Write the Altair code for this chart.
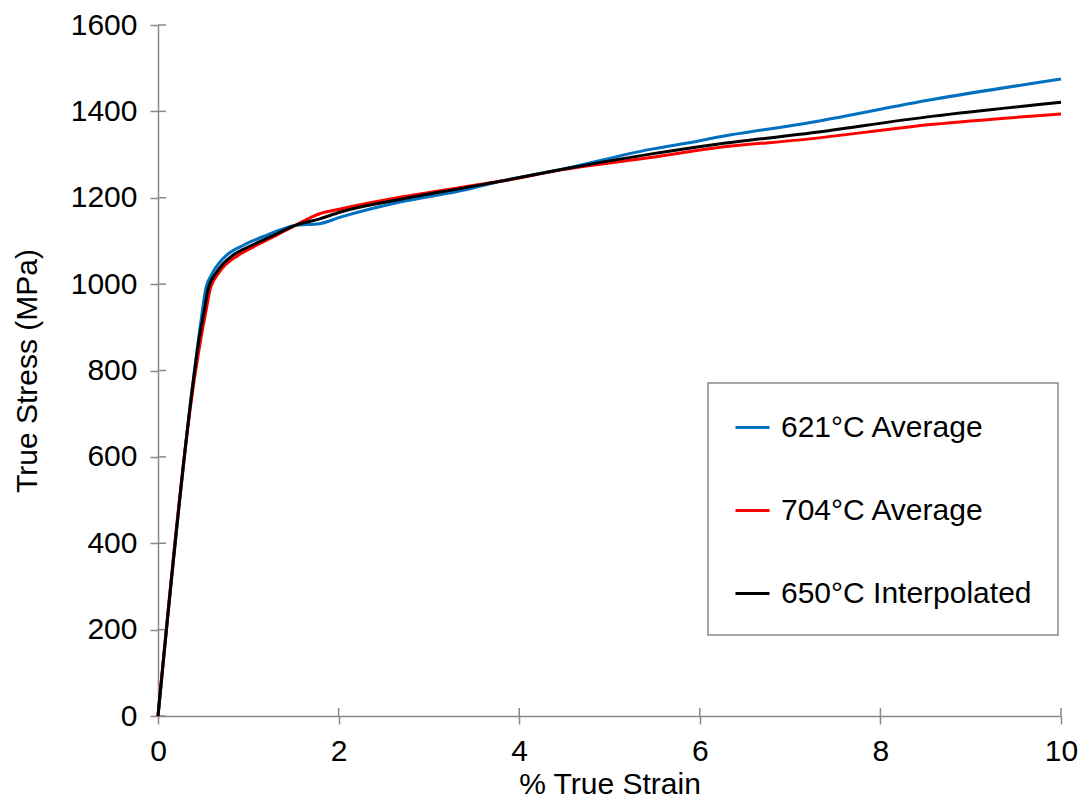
import altair as alt
import pandas as pd

series_names = ["621°C Average", "704°C Average", "650°C Interpolated"]
series_colors = ["#0070C0", "#FF0000", "#000000"]

strain_621 = [0, 0.38, 0.44, 0.49, 0.53, 0.61, 0.76, 0.945, 1.20, 1.52, 1.79, 2.02, 2.68,
              3.42, 3.79, 4.45, 5.45, 6.0, 6.19, 7.11, 8.59, 10.0]
stress_621 = [0, 760, 860, 936, 990, 1028, 1067, 1090, 1113, 1136, 1140, 1155, 1190,
              1219, 1238, 1265, 1312, 1332, 1340, 1370, 1428, 1475]

strain_704 = [0, 0.41, 0.48, 0.53, 0.58, 0.68, 0.89, 1.09, 1.31, 1.52, 1.79, 2.02, 2.68,
              3.42, 3.79, 4.45, 5.45, 6.19, 7.11, 8.59, 10.0]
stress_704 = [0, 790, 880, 936, 990, 1028, 1067, 1090, 1113, 1136, 1163, 1174, 1201,
              1226, 1238, 1264, 1293, 1316, 1334, 1370, 1394]

strain_650 = [0, 0.40, 0.46, 0.51, 0.557, 0.65, 0.83, 1.04, 1.28, 1.52, 1.79, 2.02, 2.68,
              3.42, 3.79, 4.45, 5.45, 6.19, 7.11, 8.59, 10.0]
stress_650 = [0, 790, 880, 936, 990, 1028, 1067, 1090, 1113, 1136, 1151, 1167, 1196,
              1224, 1238, 1265, 1301, 1324, 1347, 1389, 1421]

x_ticks = [0, 2, 4, 6, 8, 10]
y_ticks = [0, 200, 400, 600, 800, 1000, 1200, 1400, 1600]

frames = []
for name, xs, ys in [(series_names[0], strain_621, stress_621),
                     (series_names[1], strain_704, stress_704),
                     (series_names[2], strain_650, stress_650)]:
    frames.append(pd.DataFrame({"strain": xs, "stress": ys, "series": name}))
df = pd.concat(frames, ignore_index=True)

FONT = "Liberation Sans"
AXIS_GRAY = "#898989"
W, H = 903, 691

x_scale = alt.Scale(domain=[0, 10], nice=False)
y_scale = alt.Scale(domain=[0, 1600], nice=False)

x_enc = alt.X("strain:Q", scale=x_scale,
              axis=alt.Axis(title="% True Strain", values=x_ticks, labelPadding=12,
                            labelFlush=False, titlePadding=3, format="d"))
y_enc = alt.Y("stress:Q", scale=y_scale,
              axis=alt.Axis(title="True Stress (MPa)", values=y_ticks, labelPadding=13,
                            titlePadding=28, format="d"))
color_enc = alt.Color("series:N",
                      scale=alt.Scale(domain=series_names, range=series_colors),
                      sort=series_names,
                      legend=alt.Legend(title=None, orient="none", legendX=550, legendY=358,
                                        padding=26, rowPadding=49, symbolType="stroke",
                                        symbolSize=1156, symbolStrokeWidth=3,
                                        labelOffset=10, labelFontSize=30, labelFont=FONT,
                                        labelColor="#000000", labelLimit=400,
                                        strokeColor=AXIS_GRAY, fillColor="#ffffff"))

# inner halves of the crossing tick marks (outer halves come from the axes)
ytick_df = pd.DataFrame({"stress": y_ticks})
xtick_df = pd.DataFrame({"strain": x_ticks})
inner_y = alt.Chart(ytick_df).mark_rule(color=AXIS_GRAY, strokeWidth=1.5).encode(
    y=alt.Y("stress:Q", scale=y_scale), x=alt.value(0), x2=alt.value(8))
inner_x = alt.Chart(xtick_df).mark_rule(color=AXIS_GRAY, strokeWidth=1.5).encode(
    x=alt.X("strain:Q", scale=x_scale), y=alt.value(H - 8), y2=alt.value(H))

layers = [inner_y, inner_x]
for name in series_names:
    layers.append(
        alt.Chart(df).transform_filter(alt.datum.series == name)
        .mark_line(strokeWidth=3, interpolate="monotone")
        .encode(x=x_enc, y=y_enc, color=color_enc)
    )

chart = alt.layer(*layers).properties(
    width=W, height=H,
    autosize=alt.AutoSizeParams(type="none"),
    padding={"left": 150, "top": 17, "right": 18, "bottom": 86},
    background="#ffffff",
).configure_view(stroke=None).configure_axis(
    grid=False, domainColor=AXIS_GRAY, domainWidth=1.5, tickColor=AXIS_GRAY,
    tickWidth=1.5, tickSize=8, labelFont=FONT, labelFontSize=30, labelColor="#000000",
    titleFont=FONT, titleFontSize=30, titleFontWeight="normal", titleColor="#000000",
).configure_legend(strokeWidth=1.5)

chart.save("out.html", embed_options={"renderer": "svg", "actions": False})
